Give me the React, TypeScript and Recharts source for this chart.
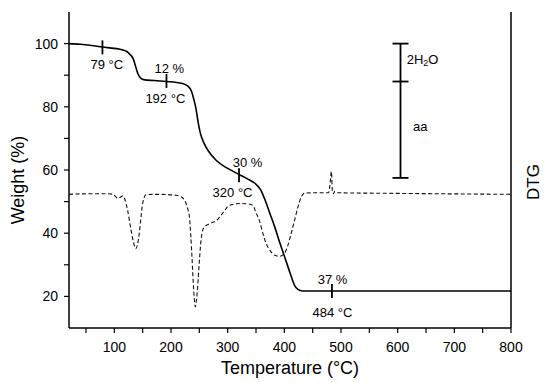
import React from "react";
import { ComposedChart, Line, Scatter, XAxis, YAxis, ReferenceLine } from "recharts";

// TGA curve (solid)
const tgaTemp = [20, 40, 60, 79, 100, 115, 122, 128, 133, 138, 142, 147, 152, 170, 192, 210, 222, 230, 236, 240, 244, 248, 252, 258, 266, 280, 300, 320, 335, 348, 358, 366, 374, 383, 392, 400, 410, 418, 424, 432, 484, 800];
const tgaWeight = [100, 99.8, 99.4, 98.9, 98.5, 98.0, 97.5, 96.5, 95.3, 92.5, 90.3, 89.0, 88.6, 88.3, 88.0, 87.7, 87.3, 86.5, 85.0, 82.5, 79.5, 75.0, 71.5, 68.6, 66.0, 63.0, 60.5, 58.6, 57.2, 55.8, 53.8, 50.5, 46.5, 42.0, 37.0, 32.8, 27.5, 23.5, 22.2, 21.7, 21.7, 21.7];

// DTG curve (dashed)
const dtgTemp = [20, 60, 91, 100, 106, 110, 115, 119, 123.5, 129.5, 134, 138, 141, 144, 147, 150, 156, 180, 209, 218, 224, 229, 232.6, 235, 237, 240, 243, 245, 247, 250, 253, 256, 259, 268, 280, 292, 303, 321, 335, 344.5, 350, 356, 362, 368, 375, 383, 392, 400, 406, 412, 418, 424, 430, 436, 460, 478, 481, 483, 485, 487, 489, 495, 600, 800];
const dtgValue = [52.3, 52.5, 52.5, 52.0, 51.0, 51.3, 51.8, 50.5, 47.2, 41, 37, 35.1, 36.5, 40, 45, 49.4, 52.2, 52.3, 52.0, 51.5, 50.4, 48, 45, 39, 32.5, 22, 16.7, 19, 23, 31, 37.8, 41, 42, 43, 44, 46.5, 48.8, 49.4, 49.3, 48.8, 46.5, 44, 40, 36.7, 34.5, 33, 32.7, 33.6, 36, 39.9, 44, 48.3, 51.5, 52.7, 52.8, 52.8, 56, 59.5, 53, 52.5, 53.3, 52.8, 52.6, 52.3];

// step markers on the TGA curve
const markTemp = [79, 192, 320, 484];
const markWeight = [98.8, 88.2, 58.3, 21.7];

// annotation texts
const noteText = ["79 °C", "12 %", "192 °C", "30 %", "320 °C", "37 %", "484 °C"];
const noteTemp = [86.7, 197, 190, 335, 308.6, 485, 485];
const noteWeight = [93.4, 92.1, 82.6, 62.4, 52.9, 25.4, 15];

// mass-loss bar
const barTemp = 605;
const barLevels = [100, 88, 57.5];

const xTicks = [50, 100, 150, 200, 250, 300, 350, 400, 450, 500, 550, 600, 650, 700, 750, 800];
const yTicks = [20, 30, 40, 50, 60, 70, 80, 90, 100];

const FONT = "'Liberation Sans', Arial, sans-serif";

export default function App() {
  const tga = tgaTemp.map((t, i) => ({ t, w: tgaWeight[i] }));
  const dtg = dtgTemp.map((t, i) => ({ t, d: dtgValue[i] }));
  const marks = markTemp.map((t, i) => ({ t, w: markWeight[i] }));
  const notes = noteText.map((text, i) => ({ t: noteTemp[i], w: noteWeight[i], text }));
  const caps = barLevels.map((w) => ({ t: barTemp, w }));

  const axisLine = { stroke: "#000", strokeWidth: 1.5 };
  const tickLine = { stroke: "#000", strokeWidth: 1.2 };

  return (
    <div style={{ position: "absolute", left: 0, top: 0, fontFamily: FONT }}>
      <ComposedChart width={550} height={383} margin={{ top: 12, right: 19, bottom: 25, left: 19 }}>
        <XAxis
          dataKey="t"
          type="number"
          domain={[20, 800]}
          allowDataOverflow
          ticks={xTicks}
          interval={0}
          tickFormatter={(v) => (v % 100 === 0 ? String(v) : "")}
          tick={{ fill: "#000", fontSize: 14 }}
          tickSize={5}
          tickMargin={9}
          axisLine={axisLine}
          tickLine={tickLine}
          height={30}
          label={{
            content: () => (
              <text x={290} y={374} textAnchor="middle" fontSize={18} fill="#000">
                Temperature (°C)
              </text>
            ),
          }}
        />
        <XAxis
          xAxisId="top"
          orientation="top"
          type="number"
          domain={[20, 800]}
          tick={false}
          tickLine={false}
          axisLine={axisLine}
          height={0}
        />
        <YAxis
          type="number"
          domain={[10, 110]}
          allowDataOverflow
          ticks={yTicks}
          interval={0}
          tickFormatter={(v) => (v % 20 === 0 ? String(v) : "")}
          tick={{ fill: "#000", fontSize: 14 }}
          tickSize={5}
          tickMargin={6}
          axisLine={axisLine}
          tickLine={tickLine}
          width={50}
          label={{
            content: () => (
              <text x={24} y={180} textAnchor="middle" fontSize={18} fill="#000" transform="rotate(-90 24 180)">
                Weight (%)
              </text>
            ),
          }}
        />
        <YAxis
          yAxisId="r"
          orientation="right"
          type="number"
          domain={[10, 110]}
          tick={false}
          tickLine={false}
          axisLine={axisLine}
          width={20}
          label={{
            content: () => (
              <text x={539} y={182} textAnchor="middle" fontSize={17} fill="#000" transform="rotate(-90 539 182)">
                DTG
              </text>
            ),
          }}
        />

        <Line
          yAxisId="r"
          data={dtg}
          dataKey="d"
          type="monotone"
          stroke="#111"
          strokeWidth={1.1}
          strokeDasharray="4 2.5"
          dot={false}
          isAnimationActive={false}
        />
        <Line
          data={tga}
          dataKey="w"
          type="monotone"
          stroke="#000"
          strokeWidth={1.6}
          dot={false}
          isAnimationActive={false}
        />

        <ReferenceLine
          segment={[
            { x: barTemp, y: barLevels[2] },
            { x: barTemp, y: barLevels[0] },
          ]}
          stroke="#000"
          strokeWidth={1.8}
        />
        <Scatter
          data={caps}
          dataKey="w"
          isAnimationActive={false}
          shape={(p: any) => (
            <line x1={p.cx - 8} x2={p.cx + 8} y1={p.cy} y2={p.cy} stroke="#000" strokeWidth={1.8} />
          )}
        />
        <Scatter
          data={marks}
          dataKey="w"
          isAnimationActive={false}
          shape={(p: any) => (
            <line x1={p.cx} x2={p.cx} y1={p.cy - 7} y2={p.cy + 7} stroke="#000" strokeWidth={1.8} />
          )}
        />
        <Scatter
          data={notes}
          dataKey="w"
          isAnimationActive={false}
          shape={(p: any) => (
            <text x={p.cx} y={p.cy} textAnchor="middle" dominantBaseline="central" fontSize={13} fill="#000">
              {p.payload.text}
            </text>
          )}
        />
        <Scatter
          data={[{ t: 616, w: 95 }]}
          dataKey="w"
          isAnimationActive={false}
          shape={(p: any) => (
            <text x={p.cx} y={p.cy} dominantBaseline="central" fontSize={13} fill="#000">
              2H<tspan fontSize={9} dy={4}>2</tspan>
              <tspan dy={-4}>O</tspan>
            </text>
          )}
        />
        <Scatter
          data={[{ t: 627, w: 73.8 }]}
          dataKey="w"
          isAnimationActive={false}
          shape={(p: any) => (
            <text x={p.cx} y={p.cy} dominantBaseline="central" fontSize={13} fill="#000">
              aa
            </text>
          )}
        />
      </ComposedChart>
    </div>
  );
}
